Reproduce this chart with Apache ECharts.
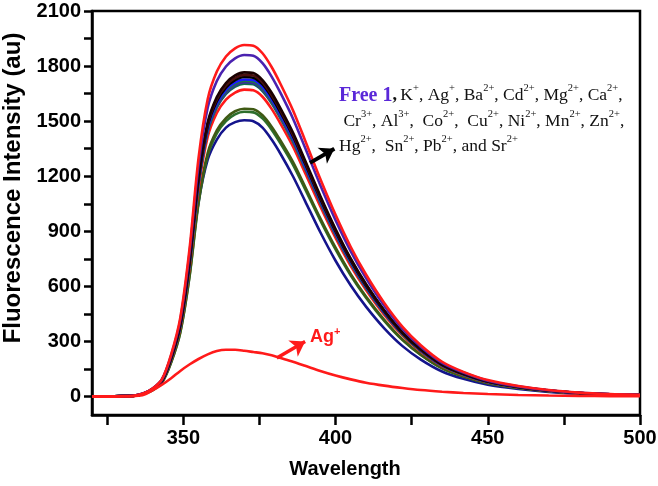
<!DOCTYPE html>
<html>
<head>
<meta charset="utf-8">
<script src="https://cdn.jsdelivr.net/npm/echarts@6/dist/echarts.min.js"></script>
<style>html,body{margin:0;padding:0;background:#fff}#c{width:658px;height:486px}</style>
</head>
<body>
<div id="c"></div>
<script>
// ---- data ----
const wavelengths = [320,325,330,334,337,340,343,346,349,352,355,358,361,364,367,370,373,376,379,382,386,390,395,400,405,410,416,422,428,435,442,450,460,470,480,490,500];

const curveRedTop   = [2,2,3,6,18,45,95,230,430,800,1300,1620,1770,1852,1897,1915,1911,1870,1795,1700,1560,1395,1185,990,815,665,510,380,280,190,135,90,58,36,22,14,10];
const curveViolet   = [2,2,3,6,18,44,92,224,418,777,1262,1573,1719,1798,1842,1860,1856,1816,1743,1651,1515,1355,1151,961,791,646,495,369,272,184,131,87,56,35,21,14,10];
const curveBlack1   = [2,2,3,6,17,42,88,212,396,738,1199,1494,1632,1708,1749,1766,1762,1724,1655,1567,1438,1286,1093,913,751,613,470,350,258,175,124,83,53,33,20,13,9];
const curveBrown    = [2,2,3,6,16,41,87,210,393,732,1190,1482,1620,1695,1736,1752,1749,1711,1642,1556,1427,1276,1084,906,746,608,467,348,256,174,124,82,53,33,20,13,9];
const curveBlack2   = [2,2,3,5,16,41,86,209,391,727,1182,1473,1609,1683,1724,1741,1737,1700,1632,1545,1418,1268,1077,900,741,604,464,345,255,173,123,82,53,33,20,13,9];
const curveBlue     = [2,2,3,5,16,41,86,207,388,722,1173,1461,1597,1671,1711,1727,1724,1687,1619,1533,1407,1258,1069,893,735,600,460,343,253,171,122,81,52,32,20,13,9];
const curveGreen    = [2,2,3,5,16,40,85,207,386,718,1167,1455,1589,1663,1704,1720,1716,1679,1612,1527,1401,1253,1064,889,732,597,458,341,251,171,121,81,52,32,20,13,9];
const curvePurple   = [2,2,3,5,16,40,85,206,384,715,1162,1448,1582,1656,1696,1712,1708,1672,1605,1520,1395,1247,1059,885,729,595,456,340,250,170,121,80,52,32,20,13,9];
const curveTeal     = [2,2,3,5,16,40,85,205,383,712,1157,1442,1575,1648,1688,1704,1701,1664,1598,1513,1388,1242,1055,881,725,592,454,338,249,169,120,80,52,32,20,12,9];
const curveRed2     = [2,2,3,5,16,39,83,201,375,698,1135,1414,1545,1617,1656,1672,1668,1633,1567,1484,1362,1218,1035,864,711,581,445,332,244,166,118,79,51,31,19,12,9];
const curveOlive    = [2,2,3,5,15,37,78,188,352,655,1065,1327,1450,1517,1554,1568,1565,1532,1470,1392,1278,1143,971,811,667,545,418,311,229,156,111,74,48,29,18,11,8];
const curveGreen2   = [2,2,3,5,15,36,77,186,348,648,1053,1312,1434,1500,1537,1551,1548,1515,1454,1377,1264,1130,960,802,660,539,413,308,227,154,109,73,47,29,18,11,8];
const curveNavy     = [2,2,3,6,18,45,95,215,390,700,1060,1290,1400,1465,1495,1505,1500,1465,1400,1320,1200,1065,895,740,605,490,372,275,202,137,97,65,42,26,16,10,7];
const curveAg       = [0,0,1,3,10,35,65,100,140,175,205,230,248,255,255,250,243,236,225,210,190,168,140,115,94,76,60,47,36,27,20,14,9,6,4,3,2];

const xLabelValues = [350,400,450,500];
const xTickValues  = [325,350,375,400,425,450,475,500];
const yLabelValues = [0,300,600,900,1200,1500,1800,2100];
const yTickValues  = [0,150,300,450,600,750,900,1050,1200,1350,1500,1650,1800,1950,2100];

// annotation arrows (data coordinates)
const blackArrow = [[391.6,1273],[399.6,1350]];
const redArrow   = [[380.7,210],[390.0,300]];

// ---- chart ----
const curves = [
  {name:'Navy',   data:curveNavy,   color:'#14148c'},
  {name:'Green2', data:curveGreen2, color:'#2d6e2d'},
  {name:'Olive',  data:curveOlive,  color:'#3f5a14'},
  {name:'Red2',   data:curveRed2,   color:'#ff1a1a'},
  {name:'Teal',   data:curveTeal,   color:'#0f6e4f'},
  {name:'Purple', data:curvePurple, color:'#3a2aa0'},
  {name:'Green',  data:curveGreen,  color:'#1f7a3f'},
  {name:'Blue',   data:curveBlue,   color:'#1a1aff'},
  {name:'Black2', data:curveBlack2, color:'#000000'},
  {name:'Brown',  data:curveBrown,  color:'#4a1010'},
  {name:'Black1', data:curveBlack1, color:'#1a0000'},
  {name:'Violet', data:curveViolet, color:'#4a22b0'},
  {name:'RedTop', data:curveRedTop, color:'#ff1a1a'},
  {name:'Ag',     data:curveAg,     color:'#ff1a1a'}
];

const series = curves.map(c => ({
  name: c.name,
  type: 'line',
  smooth: 0.3,
  showSymbol: false,
  symbol: 'none',
  lineStyle: {color: c.color, width: 2.6},
  itemStyle: {color: c.color},
  data: wavelengths.map((w,i) => [w, c.data[i]]),
  z: 2
}));

series[series.length-1].markLine = {
  silent: true,
  animation: false,
  label: {show: false},
  symbol: ['none','arrow'],
  symbolSize: 14,
  data: [
    [{coord: blackArrow[0], lineStyle:{color:'#000', width:4, type:'solid'}}, {coord: blackArrow[1]}],
    [{coord: redArrow[0], lineStyle:{color:'#ff1a1a', width:3.5, type:'solid'}}, {coord: redArrow[1]}]
  ]
};

const serif = "'Liberation Serif','Times New Roman',serif";
const sans = "'Liberation Sans',Arial,sans-serif";

const option = {
  animation: false,
  backgroundColor: '#fff',
  grid: {left: 92, right: 18, top: 11, bottom: 71, show: true, borderColor: '#000', borderWidth: 2.5,
         backgroundColor: 'transparent', containLabel: false, outerBoundsMode: 'none'},
  xAxis: {
    type: 'value', min: 320, max: 500,
    name: 'Wavelength', nameLocation: 'middle', nameGap: 44,
    nameTextStyle: {fontFamily: sans, fontWeight: 'bold', fontSize: 20, color: '#000', padding: [0,42,0,0]},
    axisLine: {show: true, onZero: false, lineStyle: {color: '#000', width: 2.5}},
    axisTick: {show: true, inside: false, length: 10, lineStyle: {color: '#000', width: 2.5}, customValues: xTickValues},
    axisLabel: {fontFamily: sans, fontWeight: 'bold', fontSize: 20, color: '#000', margin: 13, customValues: xLabelValues,
                showMaxLabel: true, showMinLabel: true, formatter: v => String(v)},
    splitLine: {show: false}
  },
  yAxis: {
    type: 'value', min: -100, max: 2100,
    name: 'Fluorescence Intensity (au)', nameLocation: 'middle', nameGap: 62,
    nameTextStyle: {fontFamily: sans, fontWeight: 'bold', fontSize: 24, color: '#000', padding: [0,0,0,50]},
    axisLine: {show: true, onZero: false, lineStyle: {color: '#000', width: 2.5}},
    axisTick: {show: true, inside: false, length: 8, lineStyle: {color: '#000', width: 2.5}, customValues: yTickValues},
    axisLabel: {fontFamily: sans, fontWeight: 'bold', fontSize: 20, color: '#000', margin: 11, customValues: yLabelValues,
                showMaxLabel: true, showMinLabel: true, formatter: v => String(v)},
    splitLine: {show: false}
  },
  graphic: [
    {
      type: 'text', left: 339, top: 83, z: 10,
      style: {
        text: '{b|Free 1}{c|,} {t|K}{s|+}{t|, Ag}{s|+}{t|, Ba}{s|2+}{t|, Cd}{s|2+}{t|, Mg}{s|2+}{t|, Ca}{s|2+}{t|,}\n' +
              '{t| Cr}{s|3+}{t|, Al}{s|3+}{t|,  Co}{s|2+}{t|,  Cu}{s|2+}{t|, Ni}{s|2+}{t|, Mn}{s|2+}{t|, Zn}{s|2+}{t|,}\n' +
              '{t|Hg}{s|2+}{t|,  Sn}{s|2+}{t|, Pb}{s|2+}{t|, and Sr}{s|2+}',
        rich: {
          b: {fontFamily: serif, fontWeight: 'bold', fontSize: 20, fill: '#5a28d8', lineHeight: 25.5},
          c: {fontFamily: serif, fontWeight: 'bold', fontSize: 18, fill: '#111', lineHeight: 25.5},
          t: {fontFamily: serif, fontSize: 17.5, fill: '#111', lineHeight: 25.5},
          s: {fontFamily: serif, fontSize: 10.5, fill: '#111', lineHeight: 12, verticalAlign: 'top'}
        }
      }
    },
    {
      type: 'text', left: 310, top: 326, z: 10,
      style: {
        text: '{a|Ag}{p|+}',
        rich: {
          a: {fontFamily: sans, fontWeight: 'bold', fontSize: 18, fill: '#ff1a1a', lineHeight: 23},
          p: {fontFamily: sans, fontWeight: 'bold', fontSize: 11, fill: '#ff1a1a', lineHeight: 12, verticalAlign: 'top'}
        }
      }
    }
  ],
  series: series
};

const chart = echarts.init(document.getElementById('c'), null, {renderer: 'canvas'});
chart.setOption(option);
</script>
</body>
</html>
